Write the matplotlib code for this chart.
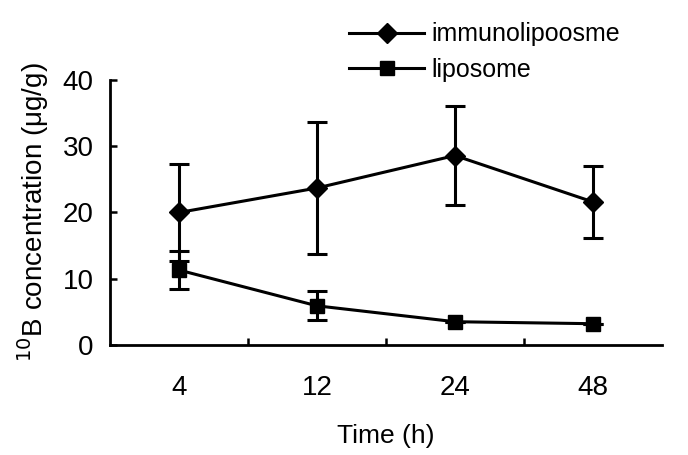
import matplotlib
matplotlib.use("Agg")
import matplotlib.pyplot as plt
from matplotlib.lines import Line2D
import numpy as np

plt.rcParams['font.family'] = ['Liberation Sans', 'DejaVu Sans']

times = ["4", "12", "24", "48"]
immuno = [20.0, 23.7, 28.6, 21.6]
immuno_err = [7.3, 10.0, 7.5, 5.4]
lipo = [11.3, 5.9, 3.5, 3.2]
lipo_err = [2.9, 2.2, 0.0, 0.0]

fig = plt.figure(figsize=(6.88, 4.55), dpi=100)
ax = fig.add_axes([0.16, 0.242, 0.802, 0.582])

x = np.arange(len(times))
lw = 2.2
ax.errorbar(x, immuno, yerr=immuno_err, color='black', marker='D', ms=10,
            lw=lw, elinewidth=lw, capsize=7, capthick=lw)
ax.errorbar(x, lipo, yerr=lipo_err, color='black', marker='s', ms=10,
            lw=lw, elinewidth=lw, capsize=7, capthick=lw)

ax.set_xlim(-0.5, 3.5)
ax.set_ylim(0, 40)
ax.set_yticks([0, 10, 20, 30, 40])
ax.set_xticks(x)
ax.set_xticklabels(times)
ax.set_xticks([0.5, 1.5, 2.5], minor=True)
ax.tick_params(axis='x', which='major', length=0, labelsize=20, pad=22)
ax.tick_params(axis='x', which='minor', direction='in', length=5, width=1.8)
ax.tick_params(axis='y', direction='in', length=5, width=1.8, labelsize=20, pad=12)

for s in ['top', 'right']:
    ax.spines[s].set_visible(False)
for s in ['left', 'bottom']:
    ax.spines[s].set_linewidth(2)

ax.set_xlabel("Time (h)", fontsize=19, labelpad=16)
ax.set_ylabel("$^{10}$B concentration (μg/g)", fontsize=20, labelpad=8)

handles = [Line2D([], [], color='black', lw=lw, marker='D', ms=10),
           Line2D([], [], color='black', lw=lw, marker='s', ms=10)]
labels = ['immunolipoosme', 'liposome']
fig.legend(handles, labels, loc='upper left', bbox_to_anchor=(0.475, 1.0),
           frameon=False, fontsize=18, handlelength=3.0, labelspacing=0.45,
           handletextpad=0.3)

fig.savefig("out.png", dpi=100)
